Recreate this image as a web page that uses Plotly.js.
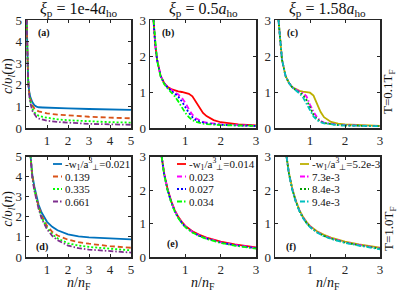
<!DOCTYPE html>
<html><head><meta charset="utf-8">
<script src="https://cdn.plot.ly/plotly-3.0.1.min.js"></script>
<style>html,body{margin:0;padding:0;background:#fff}#chart{width:399px;height:292px}</style>
</head><body><div id="chart"></div>
<script>
// ---- Panel (a): xi_p = 1e-4 a_ho, T = 0.1 T_F ----
const xA = [0.02,0.04,0.06,0.08,0.1,0.15,0.2,0.3,0.4,0.5,0.6,0.8,1,1.5,2,3,4,5];
const aBlue   = [5.5,4.2,3.3,2.7,2.3,1.7,1.45,1.2,1.05,0.99,0.96,0.95,0.94,0.92,0.91,0.88,0.86,0.84];
const aOrange = [5.5,4.2,3.3,2.7,2.3,1.65,1.35,1.05,0.9,0.82,0.77,0.72,0.68,0.62,0.58,0.52,0.48,0.45];
const aGreen  = [5.5,4.2,3.3,2.7,2.25,1.6,1.25,0.9,0.72,0.63,0.57,0.51,0.47,0.4,0.36,0.3,0.27,0.25];
const aPurple = [5.5,4.2,3.3,2.7,2.2,1.55,1.2,0.8,0.62,0.5,0.44,0.38,0.34,0.28,0.24,0.19,0.17,0.15];

// ---- Panel (d): xi_p = 1e-4 a_ho, T = 1.0 T_F ----
const xD = [0.2,0.25,0.3,0.4,0.5,0.6,0.75,0.9,1,1.25,1.5,2,2.5,3,4,5];
const dBlue   = [5.2,4.6,4.1,3.5,3.0,2.6,2.2,1.9,1.75,1.5,1.33,1.13,1.03,0.98,0.92,0.88];
const dOrange = [5.2,4.55,4.05,3.4,2.9,2.5,2.05,1.72,1.55,1.25,1.07,0.86,0.74,0.66,0.54,0.46];
const dGreen  = [5.2,4.5,4.0,3.35,2.85,2.45,1.95,1.62,1.45,1.13,0.93,0.68,0.57,0.5,0.4,0.33];
const dPurple = [5.2,4.5,3.95,3.3,2.8,2.4,1.9,1.56,1.38,1.05,0.84,0.57,0.44,0.37,0.28,0.22];
const namesA = ['0.021','0.139','0.335','0.661'];

// ---- Panel (b): xi_p = 0.5 a_ho, T = 0.1 T_F ----
const xB = [0.1,0.15,0.2,0.3,0.4,0.5,0.6,0.7,0.8,0.9,1.0,1.1,1.2,1.3,1.4,1.5,1.6,1.8,2.0,2.5,3.0];
const bRed   = [3.0,2.3,1.9,1.45,1.25,1.14,1.08,1.04,1.02,1.0,0.98,0.95,0.88,0.72,0.55,0.42,0.33,0.22,0.16,0.1,0.07];
const bMag   = [3.0,2.3,1.9,1.45,1.25,1.13,1.06,1.0,0.93,0.84,0.7,0.52,0.37,0.27,0.21,0.17,0.15,0.12,0.1,0.08,0.06];
const bBlue  = [3.0,2.3,1.9,1.45,1.24,1.12,1.04,0.96,0.87,0.74,0.58,0.42,0.3,0.22,0.18,0.15,0.13,0.11,0.09,0.07,0.06];
const bGreen = [3.0,2.3,1.88,1.43,1.22,1.1,1.0,0.88,0.74,0.58,0.42,0.3,0.22,0.17,0.14,0.12,0.11,0.09,0.08,0.07,0.06];

// ---- Panel (e): xi_p = 0.5 a_ho, T = 1.0 T_F ----
const xE = [0.33,0.4,0.5,0.6,0.7,0.8,0.9,1.0,1.2,1.4,1.6,1.8,2.0,2.4,2.7,3.0];
const eRed   = [3.0,2.5,2.02,1.67,1.4,1.2,1.05,0.93,0.77,0.66,0.58,0.51,0.46,0.38,0.33,0.29];
const eMag   = [3.0,2.48,2.0,1.65,1.38,1.18,1.03,0.91,0.75,0.64,0.56,0.49,0.44,0.36,0.31,0.27];
const eBlue  = [3.0,2.47,1.99,1.64,1.37,1.17,1.02,0.9,0.74,0.63,0.55,0.48,0.43,0.35,0.3,0.26];
const eGreen = [3.0,2.46,1.98,1.63,1.36,1.16,1.01,0.89,0.73,0.62,0.54,0.47,0.42,0.34,0.29,0.25];
const namesB = ['0.014','0.023','0.027','0.034'];

// ---- Panel (c): xi_p = 1.58 a_ho, T = 0.1 T_F ----
const xC = [0.1,0.15,0.2,0.3,0.4,0.5,0.6,0.7,0.8,0.9,1.0,1.1,1.2,1.3,1.4,1.6,1.8,2.0,2.5,3.0];
const cYel  = [3.0,2.3,1.9,1.45,1.25,1.13,1.07,1.03,1.01,1.0,0.98,0.9,0.65,0.45,0.3,0.17,0.12,0.1,0.08,0.06];
const cMag  = [3.0,2.3,1.9,1.45,1.25,1.13,1.06,1.01,0.97,0.88,0.65,0.45,0.3,0.2,0.15,0.11,0.09,0.08,0.06,0.05];
const cGrn  = [3.0,2.3,1.9,1.45,1.25,1.12,1.05,0.99,0.92,0.78,0.55,0.37,0.25,0.18,0.14,0.1,0.08,0.07,0.06,0.05];
const cCyan = [3.0,2.3,1.9,1.45,1.25,1.12,1.04,0.96,0.85,0.68,0.48,0.32,0.22,0.16,0.13,0.1,0.08,0.07,0.06,0.05];

// ---- Panel (f): xi_p = 1.58 a_ho, T = 1.0 T_F ----
const xF = [0.33,0.4,0.5,0.6,0.7,0.8,0.9,1.0,1.2,1.4,1.6,1.8,2.0,2.4,2.7,3.0];
const fYel  = [3.0,2.5,2.02,1.67,1.4,1.2,1.05,0.93,0.77,0.66,0.58,0.51,0.46,0.38,0.33,0.28];
const fMag  = [3.0,2.48,2.0,1.65,1.38,1.18,1.03,0.91,0.75,0.64,0.56,0.49,0.44,0.36,0.31,0.26];
const fGrn  = [3.0,2.47,1.99,1.64,1.37,1.17,1.02,0.9,0.74,0.63,0.55,0.48,0.43,0.35,0.3,0.25];
const fCyan = [3.0,2.46,1.98,1.63,1.36,1.16,1.01,0.89,0.73,0.62,0.54,0.47,0.42,0.34,0.29,0.23];
const namesC = ['5.2e-3','7.3e-3','8.4e-3','9.4e-3'];

const ticksA = [1,2,3,4,5];
const ticksAy = [0,1,2,3,4,5];
const ticksB = [1,2,3];
const ticksBy = [0,1,2,3];

const colA = ['#0072BD','#D95319','#00FF00','#7E2F8E'];
const colB = ['#FF0000','#FF00FF','#0000FF','#00FF00'];
const colC = ['#BDB000','#FF00FF','#00A000','#00BFBF'];
const DASH  = ['solid','5px,3px','2px,2px','5px,2px,1.5px,2px'];
const dashC = ['solid','5px,2px,1.5px,2px','2px,2px','5px,2px,1.5px,2px'];

const SERIF = '"Liberation Serif", "Times New Roman", serif';
const pre = '-w<sub>1</sub>/a<sup>3</sup><sub>⊥</sub>=';

const traces = [];
function add(x, ys, cols, dashes, xa, ya, names) {
  ys.forEach((y, i) => {
    traces.push({
      type: 'scatter', mode: 'lines', x: x, y: y,
      xaxis: xa, yaxis: ya,
      line: {color: cols[i], width: 1.8, dash: dashes[i]},
      name: names ? (i === 0 ? pre + names[i] : names[i]) : '',
      showlegend: false
    });
  });
}
add(xA, [aBlue, aOrange, aGreen, aPurple], colA, DASH, 'x', 'y', namesA);
add(xB, [bRed, bMag, bBlue, bGreen], colB, DASH, 'x2', 'y2', namesB);
add(xC, [cYel, cMag, cGrn, cCyan], colC, dashC, 'x3', 'y3', namesC);
add(xD, [dBlue, dOrange, dGreen, dPurple], colA, DASH, 'x4', 'y4', namesA);
add(xE, [eRed, eMag, eBlue, eGreen], colB, DASH, 'x5', 'y5', namesB);
add(xF, [fYel, fMag, fGrn, fCyan], colC, dashC, 'x6', 'y6', namesC);

const W = 399, H = 292;
const px = v => v / W, py = v => 1 - v / H;
const colsX = [[26,131],[150,256],[275,380]];
const rowsY = [[20,128],[156.5,257]];

function axBase(extra) {
  return Object.assign({
    showline: true, mirror: 'allticks', ticks: 'inside', ticklen: 3, tickwidth: 1,
    tickcolor: '#262626', linecolor: '#262626', linewidth: 1.5,
    showgrid: false, zeroline: false,
    tickfont: {family: SERIF, size: 13, color: '#262626'}
  }, extra);
}

const layout = {
  width: W, height: H, margin: {l:0, r:0, t:0, b:0},
  paper_bgcolor: '#fff', plot_bgcolor: '#fff', showlegend: false,
  font: {family: SERIF, color: '#262626'}
};
let k = 0;
for (let r = 0; r < 2; r++) {
  for (let c = 0; c < 3; c++) {
    k++;
    const xs = k === 1 ? '' : String(k);
    const big = c === 0;
    layout['xaxis' + xs] = axBase({
      domain: [px(colsX[c][0]), px(colsX[c][1])], anchor: 'y' + xs,
      range: big ? [0,5] : [0,3], tickvals: big ? ticksA : ticksB
    });
    layout['yaxis' + xs] = axBase({
      domain: [py(rowsY[r][1]), py(rowsY[r][0])], anchor: 'x' + xs,
      range: big ? [0,5] : [0,3], tickvals: big ? ticksAy : ticksBy
    });
  }
}

const ann = [];
const shapes = [];
const titles = ['<i>ξ</i><sub>p</sub> = 1e-4<i>a</i><sub>ho</sub>',
                '<i>ξ</i><sub>p</sub> = 0.5<i>a</i><sub>ho</sub>',
                '<i>ξ</i><sub>p</sub> = 1.58<i>a</i><sub>ho</sub>'];
titles.forEach((t, c) => ann.push({
  text: t, xref: 'paper', yref: 'paper', x: px((colsX[c][0] + colsX[c][1]) / 2), y: py(9),
  xanchor: 'center', yanchor: 'middle', showarrow: false, font: {family: SERIF, size: 16, color: '#111'}
}));
[0,1].forEach(r => ann.push({
  text: '<i>c</i>/<i>υ</i><sub><i>l</i></sub>(<i>n</i>)', xref: 'paper', yref: 'paper', x: px(9), y: py((rowsY[r][0] + rowsY[r][1]) / 2 + 2),
  xanchor: 'center', yanchor: 'middle', textangle: -90, showarrow: false, font: {family: SERIF, size: 14, color: '#111'}
}));
[0,1,2].forEach(c => ann.push({
  text: '<i>n</i>/<i>n</i><sub>F</sub>', xref: 'paper', yref: 'paper', x: px((colsX[c][0] + colsX[c][1]) / 2), y: py(283),
  xanchor: 'center', yanchor: 'middle', showarrow: false, font: {family: SERIF, size: 14, color: '#111'}
}));
[['T=0.1T<sub>F</sub>', 92], ['T=1.0T<sub>F</sub>', 229]].forEach(([t, yy]) => ann.push({
  text: t, xref: 'paper', yref: 'paper', x: px(389), y: py(yy),
  xanchor: 'center', yanchor: 'middle', textangle: -90, showarrow: false, font: {family: SERIF, size: 13, color: '#111'}
}));
[['(a)', 44, 33], ['(b)', 168, 33], ['(c)', 292, 33], ['(d)', 42, 247], ['(e)', 172, 244], ['(f)', 291, 247]].forEach(([t, xx, yy]) => ann.push({
  text: '<b>' + t + '</b>', xref: 'paper', yref: 'paper', x: px(xx), y: py(yy),
  xanchor: 'center', yanchor: 'middle', showarrow: false, font: {family: SERIF, size: 10, color: '#111'}
}));

// legends (key line + label), one per bottom panel
const legRows = [164, 176.5, 189, 201.5];
const legCfg = [
  {names: namesA, cols: colA, dashes: DASH,  kx: [53, 62],  tx: 63},
  {names: namesB, cols: colB, dashes: DASH,  kx: [177, 186], tx: 187},
  {names: namesC, cols: colC, dashes: dashC, kx: [300, 309], tx: 310}
];
legCfg.forEach(cfg => {
  cfg.names.forEach((n, i) => {
    const yy = legRows[i];
    shapes.push({type: 'line', xref: 'paper', yref: 'paper',
      x0: px(cfg.kx[0]), x1: px(cfg.kx[1]), y0: py(yy), y1: py(yy),
      line: {color: cfg.cols[i], width: 1.8, dash: cfg.dashes[i]}});
    ann.push({text: (i === 0 ? pre : '') + n, xref: 'paper', yref: 'paper', x: px(cfg.tx), y: py(yy),
      xanchor: 'left', yanchor: 'middle', showarrow: false, font: {family: SERIF, size: 11, color: '#111'}});
  });
});
layout.annotations = ann;
layout.shapes = shapes;

Plotly.newPlot('chart', traces, layout, {staticPlot: true, displayModeBar: false});
</script></body></html>
